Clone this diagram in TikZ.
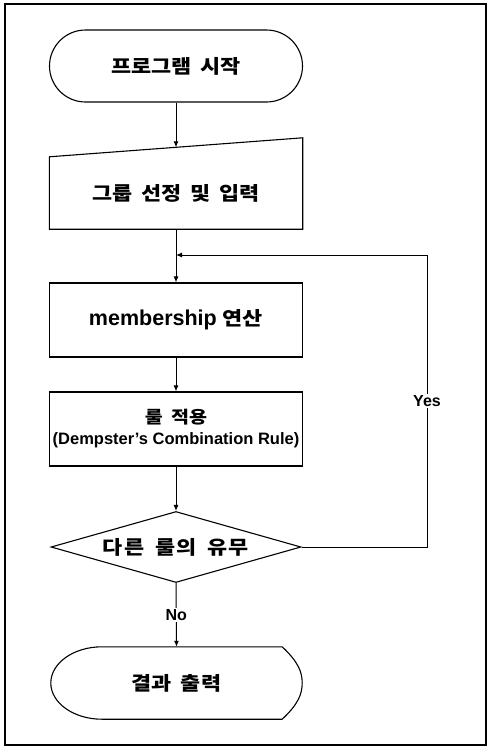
\documentclass[tikz,border=0pt]{standalone}
\usepackage{fontspec}
\setmainfont{Liberation Sans}
\newfontfamily\kor[FakeStretch=1.15,WordSpace=1.8]{Noto Sans CJK KR}
\newfontfamily\korwide[FakeStretch=1.15,WordSpace=1.8,LetterSpace=6]{Noto Sans CJK KR}
\usetikzlibrary{calc,positioning,shapes.geometric,shapes.misc,arrows.meta}
\tikzset{
  flowline/.style = {draw=black, line width=1.1pt},
  termbox/.style  = {rounded rectangle, flowline, minimum width=253pt,
                     minimum height=72pt, inner sep=0pt},
  procbox/.style  = {rectangle, flowline, minimum width=253pt,
                     minimum height=74pt, inner sep=0pt, align=center},
  ghostbox/.style = {rectangle, draw=none, inner sep=0pt, align=center},
  decbox/.style   = {diamond, flowline, aspect=3.5, minimum width=250pt,
                     minimum height=71pt, inner sep=0pt},
  flow/.style     = {draw=black, line width=1pt, -{Latex[length=6pt,width=5pt]}},
  korlab/.style   = {font=\kor\bfseries\fontsize{19}{21}\selectfont},
  brlab/.style    = {font=\bfseries\fontsize{16}{18}\selectfont, fill=white,
                     inner sep=1.5pt},
}
\begin{document}
\begin{tikzpicture}[x=1pt, y=-1pt]

    % ---------- page and frame ------------------------------------------
    \useasboundingbox (0,0) rectangle (489,747);
    \draw[line width=1.3pt] (5,4) rectangle (486,745);

    % ---------- steps ---------------------------------------------------
    \node[termbox, korlab] (start) at (176,66) {프로그램 시작};
    \node[ghostbox, korlab, minimum width=253pt, minimum height=72pt] (inp)
      at (176,193) {그룹 선정 및 입력};
    \draw[flowline] (inp.north west) -- ($(inp.north east)+(0,-19)$)
      -- (inp.south east) -- (inp.south west) -- cycle;
    \coordinate (inptop) at ($(inp.north)+(0,-9.5)$);
    \node[procbox, font=\bfseries\fontsize{21.5}{24}\selectfont] (mem) at (176,320)
      {membership {\kor\fontsize{19}{21}\selectfont 연산}};
    \node[procbox, font=\bfseries\fontsize{16.5}{21}\selectfont] (rule) at (176,429)
      {{\kor\fontsize{17}{21}\selectfont 룰 적용}\\
       (Dempster's Combination Rule)};
    \node[decbox, font=\korwide\bfseries\fontsize{19}{21}\selectfont] (dia)
      at (176,547) {다른 룰의 유무};
    \node[ghostbox, korlab, minimum width=251pt, minimum height=72pt] (out)
      at (176.5,683) {결과 출력};
    \draw[flowline] ($(out.north west)+(51,0)$) -- ($(out.north east)+(-20,0)$)
      .. controls ($(out.north east)+(-4,15)$) and ($(out.east)+(0,-11)$) .. (out.east)
      .. controls ($(out.east)+(0,11)$) and ($(out.south east)+(-4,-15)$)
      .. ($(out.south east)+(-20,0)$) -- ($(out.south west)+(51,0)$)
      .. controls ($(out.south west)+(23,0)$) and ($(out.west)+(0,20)$) .. (out.west)
      .. controls ($(out.west)+(0,-20)$) and ($(out.north west)+(23,0)$)
      .. cycle;

    % ---------- connectors ----------------------------------------------
    \coordinate (merge) at (176,255);
    \coordinate (loopc) at (427,255);
    \draw[flow] (start.south) -- (inptop);
    \foreach \fa/\fb in {inp/mem, mem/rule, rule/dia}
      {\draw[flow] (\fa.south) -- (\fb.north);}
    \draw[flow] (dia.south) -- node[brlab] {No} (out.north);
    \draw[flow] (dia.east) -| node[brlab, pos=0.75] {Yes} (loopc) -- (merge);

\end{tikzpicture}
\end{document}
